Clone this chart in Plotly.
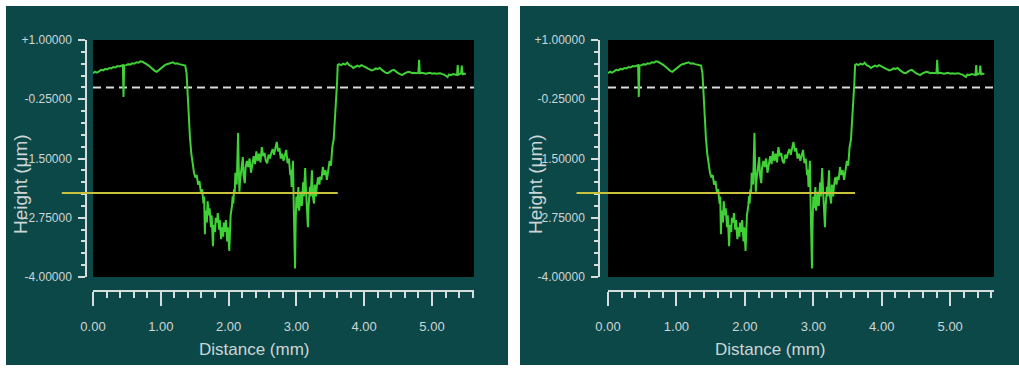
import plotly.graph_objects as go

# ---------------- data ----------------
X_PROFILE = [
    0.00, 0.03, 0.06, 0.09, 0.12, 0.15, 0.18, 0.21, 0.24, 0.27, 0.30, 0.33, 0.36, 0.39, 0.42, 0.44, 0.45, 0.46,
    0.49, 0.52, 0.55, 0.58, 0.61, 0.64, 0.67, 0.70, 0.73, 0.76, 0.79, 0.82, 0.85, 0.88, 0.91, 0.94, 0.97, 1.00,
    1.03, 1.06, 1.09, 1.12, 1.15, 1.18, 1.21, 1.24, 1.27, 1.30, 1.33, 1.36,
    1.38, 1.39, 1.40, 1.41, 1.43, 1.45, 1.47, 1.49, 1.51, 1.53, 1.55, 1.57, 1.59, 1.61,
    1.63, 1.64, 1.65, 1.66, 1.68, 1.69, 1.71, 1.72, 1.74, 1.75, 1.77, 1.78, 1.80, 1.81, 1.83, 1.84, 1.86, 1.87,
    1.89, 1.90, 1.92, 1.93, 1.95, 1.96, 1.98, 1.99, 2.01, 2.02, 2.03, 2.05, 2.06, 2.07, 2.08, 2.09, 2.10, 2.12,
    2.13, 2.14, 2.15, 2.16, 2.17, 2.19, 2.21, 2.22, 2.24, 2.25, 2.27, 2.29, 2.31, 2.33, 2.35, 2.37, 2.39, 2.41,
    2.43, 2.45, 2.47, 2.49, 2.51, 2.53, 2.55, 2.57, 2.59, 2.61, 2.63, 2.65, 2.67, 2.69, 2.71, 2.73, 2.75, 2.77,
    2.79, 2.81, 2.83, 2.85, 2.87, 2.89, 2.91, 2.92, 2.93, 2.94, 2.95, 2.96, 2.97, 2.98, 2.99, 3.00, 3.01, 3.03,
    3.04, 3.05, 3.07, 3.08, 3.10, 3.11, 3.13, 3.14, 3.15, 3.16, 3.17, 3.18, 3.20, 3.21, 3.23, 3.24, 3.26, 3.27,
    3.29, 3.30, 3.32, 3.34, 3.35, 3.37, 3.39, 3.41, 3.43, 3.45, 3.47, 3.49, 3.51, 3.53, 3.55, 3.57, 3.59, 3.60,
    3.61,
    3.63, 3.66, 3.69, 3.72, 3.75, 3.78, 3.81, 3.84, 3.87, 3.90, 3.93, 3.96, 3.99, 4.02, 4.05, 4.08, 4.11, 4.14,
    4.17, 4.20, 4.23, 4.26, 4.29, 4.32, 4.35, 4.38, 4.41, 4.44, 4.47, 4.50, 4.53, 4.56, 4.59, 4.62, 4.65, 4.68,
    4.71, 4.74, 4.77, 4.80, 4.81, 4.82, 4.85, 4.88, 4.91, 4.94, 4.97, 5.00, 5.03, 5.06, 5.09, 5.12, 5.15, 5.18,
    5.21, 5.23, 5.25, 5.28, 5.31, 5.34, 5.37, 5.38, 5.39, 5.41, 5.43, 5.44, 5.45, 5.47, 5.50,
]
Y_PROFILE = [
    0.30, 0.33, 0.31, 0.35, 0.37, 0.36, 0.39, 0.38, 0.41, 0.40, 0.43, 0.42, 0.45, 0.44, 0.46, 0.47, -0.20, 0.46,
    0.47, 0.49, 0.48, 0.51, 0.50, 0.53, 0.52, 0.55, 0.54, 0.52, 0.49, 0.46, 0.42, 0.38, 0.35, 0.33, 0.37, 0.41,
    0.44, 0.47, 0.49, 0.50, 0.52, 0.53, 0.50, 0.51, 0.49, 0.48, 0.47, 0.46,
    0.30, 0.00, -0.35, -0.70, -1.05, -1.40, -1.62, -1.80, -1.90, -1.85, -2.05, -1.98, -2.20, -2.15,
    -2.45, -2.30, -3.10, -2.60, -2.85, -2.40, -2.70, -2.55, -2.95, -2.70, -3.35, -2.90, -3.05, -2.75, -2.85, -2.65, -3.00, -2.80,
    -3.20, -2.95, -3.15, -2.85, -3.05, -2.80, -3.25, -2.95, -3.45, -2.90, -2.70, -2.50, -2.30, -2.45, -2.15, -2.25, -1.80, -2.05,
    -1.40, -0.96, -1.70, -2.20, -1.95, -1.75, -1.47, -1.85, -2.02, -1.70, -1.55, -1.68, -1.50, -1.80, -1.60, -1.45, -1.62, -1.35,
    -1.55, -1.40, -1.58, -1.26, -1.45, -1.38, -1.55, -1.60, -1.42, -1.50, -1.38, -1.30, -1.42, -1.25, -1.15, -1.35, -1.28, -1.50,
    -1.40, -1.55, -1.45, -1.32, -1.60, -1.50, -1.85, -1.74, -2.10, -1.90, -1.55, -2.40, -2.90, -3.82, -2.80, -2.30, -2.55, -2.10,
    -2.60, -2.40, -2.20, -2.50, -2.00, -2.30, -1.70, -2.10, -2.35, -2.60, -2.95, -2.50, -2.10, -2.30, -1.75, -2.25, -2.45, -2.05,
    -2.30, -2.10, -1.90, -2.05, -1.88, -1.95, -1.68, -1.85, -1.75, -1.95, -1.70, -1.55, -1.65, -1.26, -1.10, -0.70, -0.30, 0.10,
    0.47,
    0.49, 0.47, 0.50, 0.48, 0.52, 0.47, 0.45, 0.41, 0.44, 0.46, 0.44, 0.47, 0.45, 0.42, 0.40, 0.38, 0.36, 0.37,
    0.40, 0.39, 0.41, 0.37, 0.34, 0.31, 0.30, 0.33, 0.36, 0.37, 0.33, 0.30, 0.28, 0.26, 0.29, 0.31, 0.33, 0.32,
    0.30, 0.31, 0.30, 0.31, 0.58, 0.30, 0.31, 0.30, 0.29, 0.30, 0.31, 0.29, 0.30, 0.29, 0.30, 0.30, 0.28, 0.27,
    0.24, 0.22, 0.27, 0.26, 0.28, 0.27, 0.26, 0.47, 0.27, 0.28, 0.30, 0.46, 0.27, 0.29, 0.28,
]
REFERENCE_LEVEL = 0.0            # white dashed line
CURSOR_LEVEL = -2.23             # yellow line
CURSOR_X = [-0.46, 3.61]         # yellow line extent (mm)
X_TICKS = [0, 1, 2, 3, 4, 5]
X_TICK_LABELS = ["0.00", "1.00", "2.00", "3.00", "4.00", "5.00"]
Y_TICKS = [1.0, -0.25, -1.5, -2.75, -4.0]
Y_TICK_LABELS = ["+1.00000", "-0.25000", "-1.50000", "-2.75000", "-4.00000"]
X_TITLE = "Distance (mm)"
Y_TITLE = "Height (μm)"

# ---------------- layout geometry (page pixels) ----------------
W, H = 1019, 368
def fx(p): return p / W
def fy(p): return 1 - p / H

PANELS = [
    dict(box=(6, 6, 508, 365), plot=(93, 474), yaxis_x=86, xmax=5.62, xt=255, yt=20),
    dict(box=(520, 6, 1019, 365), plot=(608, 994), yaxis_x=599, xmax=5.64, xt=770, yt=535),
]
PLOT_TOP, PLOT_BOT, XAXIS_Y = 40, 277, 291
Y_RANGE = [-4.0, 1.0]

PANEL_BG = "#0d4849"
AXIS_COL = "#d5dddd"
TEXT_COL = "#ccd6d6"
GREEN = "#3fd136"
FONT = "Liberation Sans, Arial, sans-serif"

fig = go.Figure()
shapes = []
annotations = []
layout_axes = {}

for i, p in enumerate(PANELS):
    n = "" if i == 0 else str(i + 1)
    xa, ya = "x" + n, "y" + n
    x0p, x1p = p["plot"]
    xdom = [fx(x0p), fx(x1p)]
    ydom = [fy(PLOT_BOT), fy(PLOT_TOP)]
    xr = [0, p["xmax"]]

    bx0, by0, bx1, by1 = p["box"]
    shapes.append(dict(type="rect", xref="paper", yref="paper", x0=fx(bx0), x1=fx(bx1),
                       y0=fy(by1), y1=fy(by0), fillcolor=PANEL_BG, line=dict(width=0), layer="below"))
    shapes.append(dict(type="rect", xref="paper", yref="paper", x0=xdom[0], x1=xdom[1],
                       y0=ydom[0], y1=ydom[1], fillcolor="#000000", line=dict(width=0), layer="below"))

    fig.add_trace(go.Scatter(x=[xr[0], xr[1]], y=[REFERENCE_LEVEL, REFERENCE_LEVEL], mode="lines",
                             line=dict(color="#dcdcdc", width=2, dash="8px,5px"),
                             xaxis=xa, yaxis=ya, showlegend=False, hoverinfo="skip"))
    fig.add_trace(go.Scatter(x=X_PROFILE, y=Y_PROFILE, mode="lines",
                             line=dict(color=GREEN, width=2),
                             xaxis=xa, yaxis=ya, showlegend=False))

    def to_px(v):
        return xdom[0] + (v - xr[0]) / (xr[1] - xr[0]) * (xdom[1] - xdom[0])
    def to_py(v):
        return ydom[0] + (v - Y_RANGE[0]) / (Y_RANGE[1] - Y_RANGE[0]) * (ydom[1] - ydom[0])
    shapes.append(dict(type="line", xref="paper", yref="paper",
                       x0=to_px(CURSOR_X[0]), x1=to_px(CURSOR_X[1]),
                       y0=to_py(CURSOR_LEVEL), y1=to_py(CURSOR_LEVEL),
                       line=dict(color="#c9c23c", width=2), layer="above"))

    layout_axes["xaxis" + n] = dict(
        domain=xdom, range=xr, anchor="free", position=fy(XAXIS_Y), automargin=False,
        showgrid=False, zeroline=False, showline=True, linecolor=AXIS_COL, linewidth=2,
        tickmode="array", tickvals=X_TICKS, ticktext=X_TICK_LABELS,
        ticks="outside", ticklen=14, tickwidth=1.5, tickcolor=AXIS_COL,
        ticklabelstandoff=9,
        minor=dict(dtick=0.2, tick0=0, ticks="outside", ticklen=6, tickwidth=1.5, tickcolor=AXIS_COL, showgrid=False),
        tickfont=dict(family=FONT, size=13, color=TEXT_COL),
    )
    layout_axes["yaxis" + n] = dict(
        domain=ydom, range=Y_RANGE, anchor="free", position=fx(p["yaxis_x"]), automargin=False,
        showgrid=False, zeroline=False, showline=True, linecolor=AXIS_COL, linewidth=1.5,
        tickmode="array", tickvals=Y_TICKS, ticktext=Y_TICK_LABELS,
        ticks="outside", ticklen=7, tickwidth=1.5, tickcolor=AXIS_COL,
        ticklabelstandoff=4,
        minor=dict(dtick=0.25, tick0=-4, ticks="outside", ticklen=4, tickwidth=1.5, tickcolor=AXIS_COL, showgrid=False),
        tickfont=dict(family=FONT, size=12, color=TEXT_COL),
    )

    annotations.append(dict(text=X_TITLE, xref="paper", yref="paper", x=fx(p["xt"]), y=fy(349),
                            showarrow=False, xanchor="center", yanchor="middle",
                            font=dict(family=FONT, size=17, color=TEXT_COL)))
    annotations.append(dict(text=Y_TITLE, xref="paper", yref="paper", x=fx(p["yt"]), y=fy(184),
                            showarrow=False, xanchor="center", yanchor="middle", textangle=-90,
                            font=dict(family=FONT, size=19, color=TEXT_COL)))

fig.update_layout(
    template="none",
    width=W, height=H,
    margin=dict(l=0, r=0, t=0, b=0, autoexpand=False),
    paper_bgcolor="#ffffff",
    plot_bgcolor="rgba(0,0,0,0)",
    shapes=shapes,
    annotations=annotations,
    showlegend=False,
    **layout_axes,
)

fig.write_html("out.html",
               post_script="document.body.style.margin='0';document.body.style.overflow='hidden';")
